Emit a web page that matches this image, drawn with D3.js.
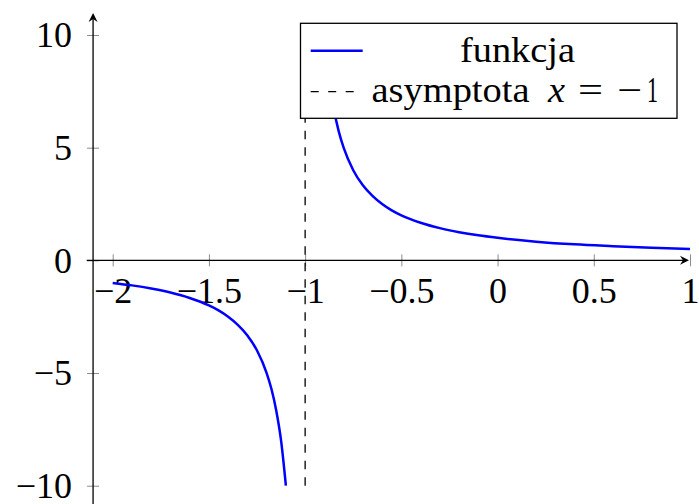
<!DOCTYPE html>
<html>
<head>
<meta charset="utf-8">
<script src="https://cdn.jsdelivr.net/npm/d3@7"></script>
<style>
  html, body { margin: 0; padding: 0; background: #fff; }
  svg { display: block; }
</style>
</head>
<body>
<svg id="chart" width="699" height="504"></svg>
<script>
// f(x) = 1/(x+1), two branches either side of the vertical asymptote x = -1
const leftX  = [-2, -1.9, -1.8, -1.7, -1.6, -1.5, -1.45, -1.4, -1.35, -1.3, -1.25, -1.2, -1.175, -1.15, -1.125, -1.1];
const leftY  = [-1, -1.11, -1.25, -1.43, -1.67, -2, -2.22, -2.5, -2.86, -3.33, -4, -5, -5.71, -6.67, -8, -10];
const rightX = [-0.9, -0.875, -0.85, -0.825, -0.8, -0.75, -0.7, -0.65, -0.6, -0.55, -0.5, -0.4, -0.3, -0.2, -0.1, 0, 0.2, 0.4, 0.6, 0.8, 1];
const rightY = [10, 8, 6.67, 5.71, 5, 4, 3.33, 2.86, 2.5, 2.22, 2, 1.67, 1.43, 1.25, 1.11, 1, 0.83, 0.71, 0.63, 0.56, 0.5];

const asymptoteX = -1;
const asymptoteY = [-10, 10];

const xTicks = [-2, -1.5, -1, -0.5, 0, 0.5, 1];
const xTickLabels = ["\u22122", "\u22121.5", "\u22121", "\u22120.5", "0", "0.5", "1"];
const yTicks = [-10, -5, 0, 5, 10];
const yTickLabels = ["\u221210", "\u22125", "0", "5", "10"];

const legendLabels = ["funkcja", "asymptota"];

const svg = d3.select("#chart");
const FONT = '"Liberation Serif"';
const FS = "36px";
const styleText = sel => sel.style("font-family", FONT).style("font-size", FS).style("fill", "#000");

const x = d3.scaleLinear().domain([-2, 1]).range([112.7, 690]);
const y = d3.scaleLinear().domain([-10, 10]).range([485.7, 35]);

const axisColor = "#000";
const tickColor = "#8c8c8c";

// ---- x axis (at y = 0), ticks crossing the line ----
const xAxisG = svg.append("g").attr("transform", `translate(0,${y(0)})`);
xAxisG.call(d3.axisBottom(x).tickValues(xTicks)
  .tickFormat((d, i) => xTickLabels[i]).tickSize(6).tickSizeOuter(0));
xAxisG.attr("font-family", null);
xAxisG.select(".domain").remove();
xAxisG.selectAll(".tick line").attr("y1", -6).attr("y2", 6)
  .attr("stroke", tickColor).attr("stroke-width", 1);
xAxisG.selectAll(".tick text").attr("y", 43).attr("dy", 0).call(styleText);

// ---- y axis (left edge), ticks crossing the line ----
const yAxisX = x(-2.102);
const yAxisG = svg.append("g").attr("transform", `translate(${yAxisX},0)`);
yAxisG.call(d3.axisLeft(y).tickValues(yTicks)
  .tickFormat((d, i) => yTickLabels[i]).tickSize(6).tickSizeOuter(0));
yAxisG.attr("font-family", null);
yAxisG.select(".domain").remove();
yAxisG.selectAll(".tick line").attr("x1", -6).attr("x2", 6)
  .attr("stroke", tickColor).attr("stroke-width", 1);
yAxisG.selectAll(".tick text").attr("x", -21).attr("dy", "0.33em").call(styleText);

// axis lines with arrow heads
const xLineStart = x(-2.135), xEnd = x(1);
svg.append("line").attr("x1", xLineStart).attr("x2", xEnd - 3)
  .attr("y1", y(0)).attr("y2", y(0)).attr("stroke", axisColor).attr("stroke-width", 1.3);
svg.append("path")
  .attr("d", `M${xEnd - 1},${y(0)} L${xEnd - 10},${y(0) - 4.5} L${xEnd - 7},${y(0)} L${xEnd - 10},${y(0) + 4.5} Z`)
  .attr("fill", axisColor);

const yTop = y(10.98);
svg.append("line").attr("x1", yAxisX).attr("x2", yAxisX)
  .attr("y1", 510).attr("y2", yTop + 3).attr("stroke", axisColor).attr("stroke-width", 1.3);
svg.append("path")
  .attr("d", `M${yAxisX},${yTop} L${yAxisX - 4.5},${yTop + 9} L${yAxisX},${yTop + 6} L${yAxisX + 4.5},${yTop + 9} Z`)
  .attr("fill", axisColor);

// ---- function branches ----
const line = d3.line().x(d => x(d[0])).y(d => y(d[1])).curve(d3.curveMonotoneX);
const leftPts = leftX.map((v, i) => [v, leftY[i]]);
const rightPts = rightX.map((v, i) => [v, rightY[i]]);
[leftPts, rightPts].forEach(pts => {
  svg.append("path").datum(pts).attr("d", line)
    .attr("fill", "none").attr("stroke", "#0000ff").attr("stroke-width", 2.5)
    .attr("stroke-linejoin", "round");
});

// ---- asymptote ----
svg.append("line")
  .attr("x1", x(asymptoteX)).attr("x2", x(asymptoteX))
  .attr("y1", y(asymptoteY[0])).attr("y2", y(asymptoteY[1]))
  .attr("stroke", "#000").attr("stroke-width", 1.3).attr("stroke-dasharray", "8.5,8");

// ---- legend ----
const lg = svg.append("g");
lg.append("rect").attr("x", 300.5).attr("y", 23.3).attr("width", 376.5).attr("height", 95)
  .attr("fill", "#fff").attr("stroke", "#000").attr("stroke-width", 1.3);
lg.append("line").attr("x1", 310.7).attr("x2", 362.7).attr("y1", 50.7).attr("y2", 50.7)
  .attr("stroke", "#0000ff").attr("stroke-width", 2.5);
lg.append("text").attr("x", 460).attr("y", 61.7)
  .attr("textLength", 115).attr("lengthAdjust", "spacingAndGlyphs")
  .call(styleText).text(legendLabels[0]);
lg.append("line").attr("x1", 310.7).attr("x2", 362.7).attr("y1", 91.7).attr("y2", 91.7)
  .attr("stroke", "#000").attr("stroke-width", 1.3).attr("stroke-dasharray", "8,9.5");

const row2 = [
  { t: legendLabels[1], x: 371.5, w: 158, italic: false },
  { t: "x", x: 548, w: 17, italic: true },
  { t: "=", x: 578, w: 25, italic: false },
  { t: "\u2212", x: 617, w: 25, italic: false },
  { t: "1", x: 647, w: 11, italic: false }
];
const t2 = lg.append("text").attr("y", 101.7).call(styleText);
row2.forEach(p => {
  t2.append("tspan").attr("x", p.x)
    .attr("textLength", p.w).attr("lengthAdjust", "spacingAndGlyphs")
    .style("font-style", p.italic ? "italic" : "normal").text(p.t);
});
</script>
</body>
</html>
